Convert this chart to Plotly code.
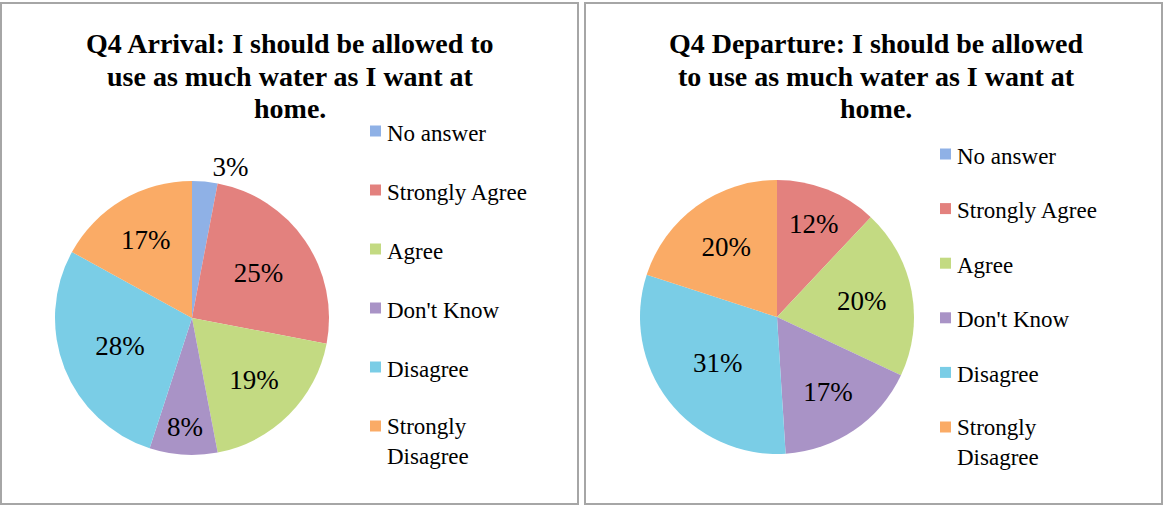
import plotly.graph_objects as go

# ---- data -------------------------------------------------------------
categories = ["No answer", "Strongly Agree", "Agree", "Don't Know",
              "Disagree", "Strongly Disagree"]
legend_labels = ["No answer", "Strongly Agree", "Agree", "Don't Know",
                 "Disagree", "Strongly<br>Disagree"]
arrival_pct = [3, 25, 19, 8, 28, 17]
departure_pct = [0, 12, 20, 17, 31, 20]

arrival_title = ["Q4 Arrival: I should be allowed to",
                 "use as much water as I want at",
                 "home."]
departure_title = ["Q4 Departure: I should be allowed",
                   "to use as much water as I want at",
                   "home."]

slice_colors = ["#8fb1e6", "#e3817e", "#c3da82", "#a993c6", "#7acde6", "#faab66"]

# ---- page geometry (pixels) ---------------------------------------------
W, H = 1164, 506
SERIF = "'Times New Roman', 'Liberation Serif', serif"
TITLE_SIZE = 28
LEGEND_SIZE = 23
LABEL_SIZE = 27


def px(x):
    return x / W


def py(y):
    return 1 - y / H


def pie_domain(cx, cy, r):
    return dict(x=[px(cx - r), px(cx + r)], y=[py(cy + r), py(cy - r)])


def pct_text(vals):
    return [f"{v}%" if v > 0 else "" for v in vals]


panels = [
    dict(values=arrival_pct, title=arrival_title, box=(1, 3, 578, 504),
         center=(192, 318), radius=137, title_x=290,
         legend_x=370, legend_y0=141, legend_step=59,
         textpos=["outside"] + ["inside"] * 5),
    dict(values=departure_pct, title=departure_title, box=(585, 3, 1162, 504),
         center=(777, 317), radius=137, title_x=876,
         legend_x=940, legend_y0=164, legend_step=54.6,
         textpos=["inside"] * 6),
]

fig = go.Figure()
shapes = []
annotations = []

for p in panels:
    cx, cy = p["center"]
    fig.add_trace(go.Pie(
        labels=categories,
        values=p["values"],
        text=pct_text(p["values"]),
        textinfo="text",
        textposition=p["textpos"],
        insidetextorientation="horizontal",
        textfont=dict(family=SERIF, size=LABEL_SIZE, color="black"),
        sort=False,
        direction="clockwise",
        rotation=0,
        marker=dict(colors=slice_colors, line=dict(width=0)),
        domain=pie_domain(cx, cy, p["radius"]),
        showlegend=False,
        hovertemplate="%{label}: %{value}%<extra></extra>",
    ))

    # panel frame
    x0, y0, x1, y1 = p["box"]
    shapes.append(dict(type="rect", xref="paper", yref="paper",
                       x0=px(x0), x1=px(x1), y0=py(y1), y1=py(y0),
                       line=dict(color="#a6a6a6", width=2), fillcolor="rgba(0,0,0,0)"))

    # title, one annotation per line for tight line spacing
    for i, line in enumerate(p["title"]):
        baseline = 53.3 + i * 32.4
        annotations.append(dict(
            text=f"<b>{line}</b>", xref="paper", yref="paper",
            x=px(p["title_x"]), y=py(baseline - 0.34 * TITLE_SIZE),
            xanchor="center", yanchor="middle", showarrow=False,
            font=dict(family=SERIF, size=TITLE_SIZE, color="black")))

    # legend: colour square + label
    for i, (lab, col) in enumerate(zip(legend_labels, slice_colors)):
        base = p["legend_y0"] + i * p["legend_step"]
        mx = p["legend_x"]
        shapes.append(dict(type="rect", xref="paper", yref="paper",
                           x0=px(mx), x1=px(mx + 11),
                           y0=py(base - 4.5), y1=py(base - 15.5),
                           line=dict(width=0), fillcolor=col))
        nlines = lab.count("<br>") + 1
        cy_text = base - 0.34 * LEGEND_SIZE + (nlines - 1) * 0.6 * LEGEND_SIZE
        annotations.append(dict(
            text=lab, xref="paper", yref="paper",
            x=px(mx + 15), y=py(cy_text), xanchor="left", yanchor="middle",
            align="left", showarrow=False,
            font=dict(family=SERIF, size=LEGEND_SIZE, color="black")))

fig.update_layout(
    width=W, height=H,
    margin=dict(l=0, r=0, t=0, b=0),
    paper_bgcolor="white",
    plot_bgcolor="white",
    shapes=shapes,
    annotations=annotations,
    showlegend=False,
)

fig.write_html("out.html")
